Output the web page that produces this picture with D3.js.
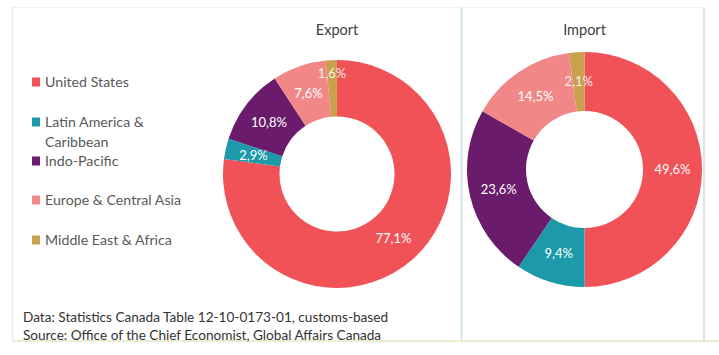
<!DOCTYPE html>
<html><head><meta charset="utf-8">
<script src="https://cdn.jsdelivr.net/npm/d3@7"></script>
<style>
html,body{margin:0;padding:0;background:#fff;}
svg{display:block;font-family:Lato,"Open Sans",sans-serif;}
</style></head>
<body>
<svg id="c" width="719" height="355"></svg>
<script>
const categories = ["United States","Latin America & Caribbean","Indo-Pacific","Europe & Central Asia","Middle East & Africa"];
const legendLines = [["United States"],["Latin America &","Caribbean"],["Indo-Pacific"],["Europe & Central Asia"],["Middle East & Africa"]];
const exportValues = [77.1, 2.9, 10.8, 7.6, 1.6];
const importValues = [49.6, 9.4, 23.6, 14.5, 2.1];
const colors = ["#F05257","#1C9AA9","#6A1B6B","#F18787","#C9A04E"];
const titles = ["Export","Import"];
const footer = ["Data: Statistics Canada Table 12-10-0173-01, customs-based","Source: Office of the Chief Economist, Global Affairs Canada"];

const svg = d3.select("#c");
const color = d3.scaleOrdinal().domain(categories).range(colors);

// frame
svg.append("line").attr("x1",12).attr("x2",704).attr("y1",7.5).attr("y2",7.5).attr("stroke","#eef2f4").attr("stroke-width",1);
svg.append("line").attr("x1",12.5).attr("x2",12.5).attr("y1",7).attr("y2",341).attr("stroke","#e6e9eb").attr("stroke-width",1.5);
svg.append("line").attr("x1",704).attr("x2",704).attr("y1",7).attr("y2",341).attr("stroke","#dde2e4").attr("stroke-width",2);
svg.append("line").attr("x1",461.5).attr("x2",461.5).attr("y1",7).attr("y2",341).attr("stroke","#d3e4ec").attr("stroke-width",2);
svg.append("line").attr("x1",12).attr("x2",719).attr("y1",341).attr("y2",341).attr("stroke","#e9eed2").attr("stroke-width",2);

// legend
const lg = svg.append("g");
const legendY = [82, 122, 161, 200, 240];
legendLines.forEach((lines,i)=>{
  lg.append("rect").attr("x",32).attr("y",legendY[i]-4.5).attr("width",8).attr("height",9).attr("fill",colors[i]);
  lines.forEach((t,j)=>{
    lg.append("text").attr("x",45).attr("y",legendY[i]+5+j*20).attr("font-size",14.2).attr("fill","#595959").text(t);
  });
});

const pie = d3.pie().sort(null).value(d=>d);
function donut(values, cx, cy, rOuter, rInner, title){
  const g = svg.append("g").attr("transform",`translate(${cx},${cy})`);
  const arc = d3.arc().innerRadius(rInner).outerRadius(rOuter);
  const arcs = pie(values);
  g.selectAll("path").data(arcs).join("path").attr("d",arc).attr("fill",(d,i)=>colors[i]);
  const labelArc = d3.arc().innerRadius(rInner+ (rOuter-rInner)*0.5).outerRadius(rInner+(rOuter-rInner)*0.5);
  g.selectAll("text.l").data(arcs).join("text").attr("class","l")
    .attr("transform",d=>{
      let [x,y]=labelArc.centroid(d);
      if (d.endAngle-d.startAngle < 0.12 && d.index===4 && rOuter<116){ const k=1.18; x*=k; y*=k; }
      return `translate(${x},${y})`;})
    .attr("text-anchor","middle").attr("dy","0.36em").attr("font-size",13)
    .attr("fill",(d,i)=> i===4 ? "#f5efe6" : "#ffffff")
    .text(d=>d3.format(".1f")(d.data).replace(".",",")+"%");
  svg.append("text").attr("x",cx).attr("y",35).attr("text-anchor","middle").attr("font-size",14.5).attr("fill","#404040").text(title);
}
donut(exportValues, 337, 174, 114, 57.5, titles[0]);
donut(importValues, 584.5, 169.5, 117.5, 58.5, titles[1]);

footer.forEach((t,i)=>{
  svg.append("text").attr("x",23).attr("y",322+i*18).attr("font-size",13.6).attr("fill","#333").text(t);
});
</script>
</body></html>
